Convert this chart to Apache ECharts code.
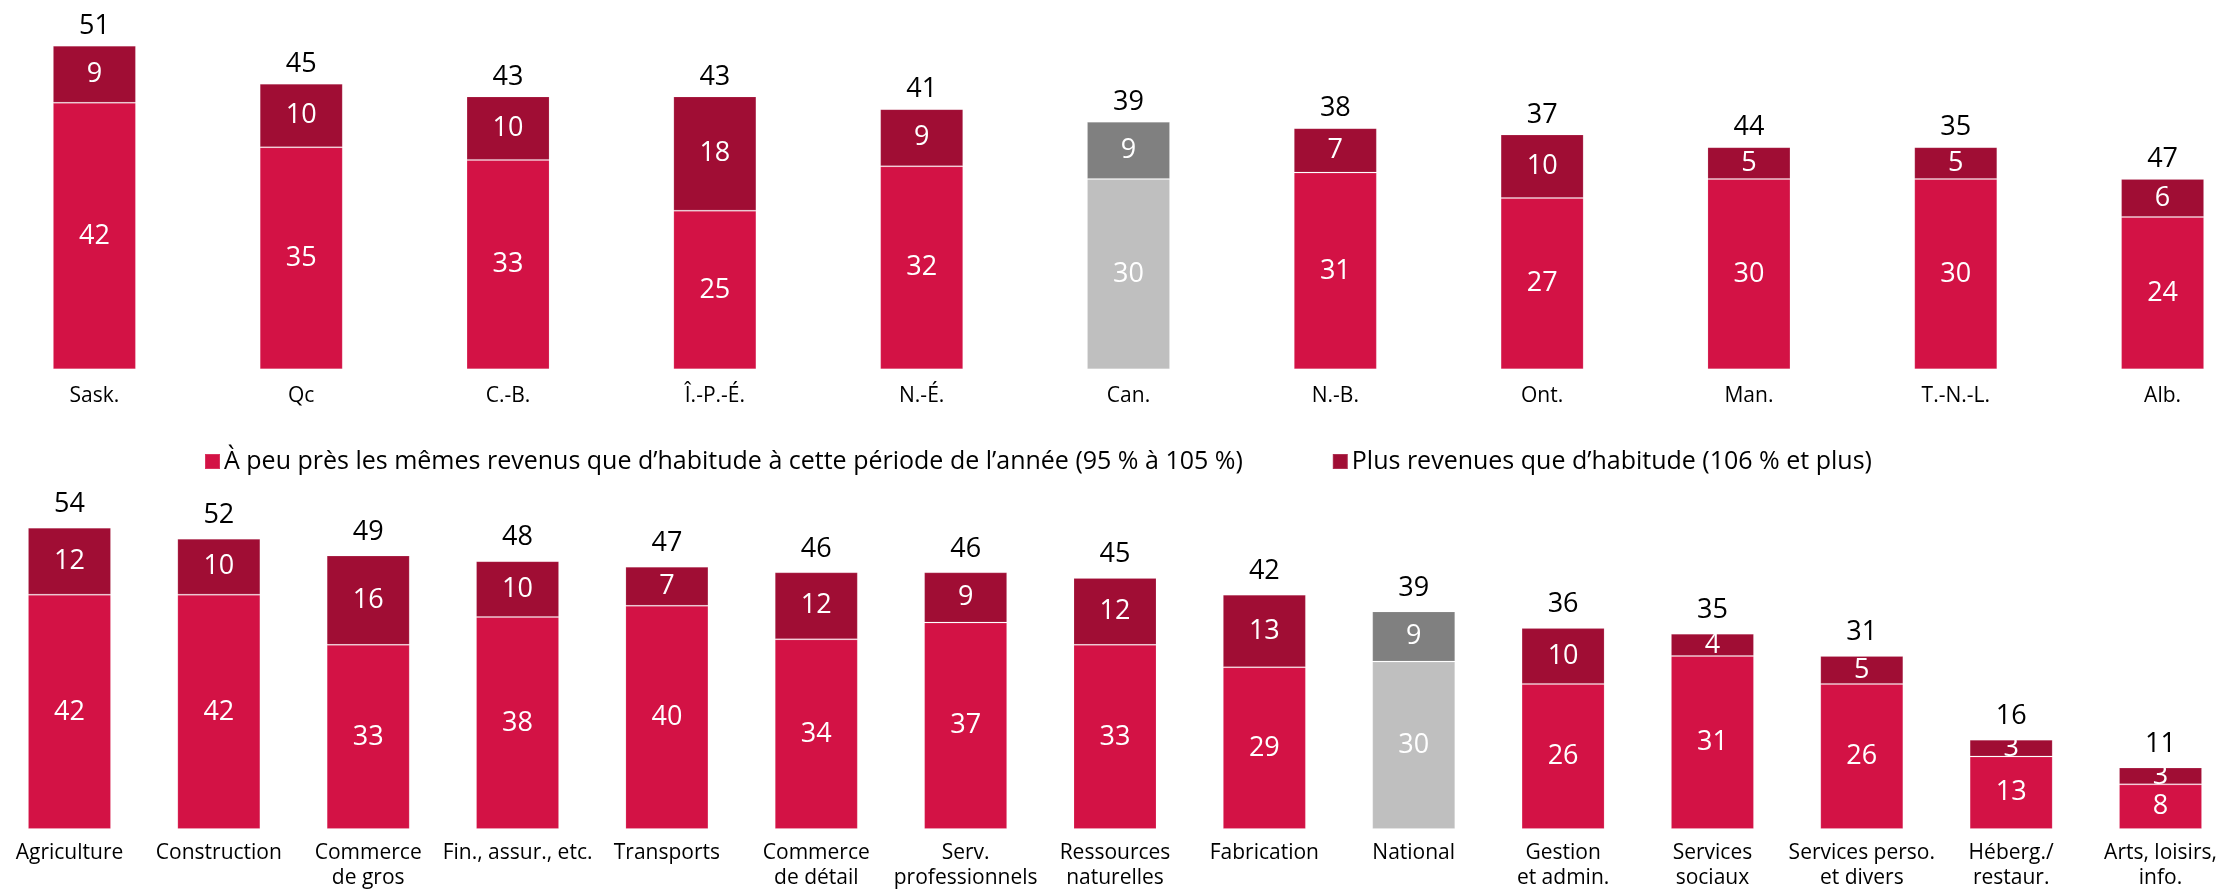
<!DOCTYPE html>
<html>
<head>
<meta charset="utf-8">
<script src="https://cdn.jsdelivr.net/npm/echarts@6/dist/echarts.min.js"></script>
<style>
  html, body { margin: 0; padding: 0; background: #fff; overflow: hidden; width: 2232px; height: 892px; }
  #chart { position: absolute; left: -10px; top: 0; width: 2280px; height: 892px; }
</style>
</head>
<body>
<div id="chart"></div>
<script>
// Provinces (top panel)
const provinces = ['Sask.', 'Qc', 'C.-B.', 'Î.-P.-É.', 'N.-É.', 'Can.', 'N.-B.', 'Ont.', 'Man.', 'T.-N.-L.', 'Alb.'];
const provSame = [42, 35, 33, 25, 32, 30, 31, 27, 30, 30, 24];
const provMore = [9, 10, 10, 18, 9, 9, 7, 10, 5, 5, 6];
const provTotal = [51, 45, 43, 43, 41, 39, 38, 37, 44, 35, 47];

// Industries (bottom panel)
const industries = ['Agriculture', 'Construction', 'Commerce\nde gros', 'Fin., assur., etc.', 'Transports',
  'Commerce\nde détail', 'Serv.\nprofessionnels', 'Ressources\nnaturelles', 'Fabrication', 'National',
  'Gestion\net admin.', 'Services\nsociaux', 'Services perso.\net divers', 'Héberg./\nrestaur.', 'Arts, loisirs,\ninfo.'];
const indSame = [42, 42, 33, 38, 40, 34, 37, 33, 29, 30, 26, 31, 26, 13, 8];
const indMore = [12, 10, 16, 10, 7, 12, 9, 12, 13, 9, 10, 4, 5, 3, 3];
const indTotal = [54, 52, 49, 48, 47, 46, 46, 45, 42, 39, 36, 35, 31, 16, 11];

const seriesNames = [
  'À peu près les mêmes revenus que d’habitude à cette période de l’année (95 % à 105 %)',
  'Plus revenues que d’habitude (106 % et plus)'
];
const highlight = ['Can.', 'National'];

const RED = '#d31245';
const DARK = '#a00d34';
const GREY_LIGHT = '#bfbfbf';
const GREY_DARK = '#808080';
const FONT = 'Open Sans';

const chart = echarts.init(document.getElementById('chart'));

function items(values, cats, greyColor) {
  return values.map((v, i) => highlight.includes(cats[i])
    ? { value: v, itemStyle: { color: greyColor } }
    : v);
}

function panel(idx, cats, same, more, total, totalDist) {
  const base = {
    type: 'bar',
    xAxisIndex: idx,
    yAxisIndex: idx,
    stack: 'p' + idx,
    barWidth: 83,
    animation: false
  };
  return [
    Object.assign({}, base, {
      name: seriesNames[0],
      data: items(same, cats, GREY_LIGHT),
      itemStyle: { color: RED, borderColor: 'rgba(255,255,255,0.15)', borderWidth: 1 },
      label: { show: true, position: 'inside', color: '#fff', fontSize: 27, fontFamily: FONT }
    }),
    Object.assign({}, base, {
      name: seriesNames[1],
      data: items(more, cats, GREY_DARK),
      itemStyle: { color: DARK, borderColor: 'rgba(255,255,255,0.15)', borderWidth: 1 },
      label: { show: true, position: 'inside', color: '#fff', fontSize: 27, fontFamily: FONT }
    }),
    Object.assign({}, base, {
      name: 'total',
      data: cats.map(() => 0),
      itemStyle: { color: 'transparent' },
      label: {
        show: true, position: 'top', distance: totalDist, color: '#000',
        fontSize: 27, fontFamily: FONT,
        formatter: p => total[p.dataIndex]
      }
    })
  ];
}

const catAxis = (idx, cats, margin) => ({
  type: 'category',
  gridIndex: idx,
  data: cats,
  axisLine: { show: false },
  axisTick: { show: false },
  axisLabel: { interval: 0, color: '#000', fontSize: 21, fontFamily: FONT, lineHeight: 25, margin: margin }
});

const option = {
  backgroundColor: '#fff',
  textStyle: { fontFamily: FONT },
  legend: {
    data: seriesNames,
    left: 209,
    top: 444,
    itemWidth: 15,
    itemHeight: 15,
    itemGap: 89,
    icon: 'rect',
    textStyle: { color: '#000', fontSize: 25, fontFamily: FONT, padding: [0, 0, 0, -1] }
  },
  grid: [
    { left: 1, right: 4, top: 20.3, bottom: 522.7 },
    { left: 4.8, right: 34.8, top: 494.2, bottom: 63 }
  ],
  xAxis: [catAxis(0, provinces, 14), catAxis(1, industries, 12)],
  yAxis: [
    { type: 'value', gridIndex: 0, min: 0, max: 55, show: false },
    { type: 'value', gridIndex: 1, min: 0, max: 60, show: false }
  ],
  series: [
    ...panel(0, provinces, provSame, provMore, provTotal, 6),
    ...panel(1, industries, indSame, indMore, indTotal, 10)
  ]
};

chart.setOption(option);
</script>
</body>
</html>
